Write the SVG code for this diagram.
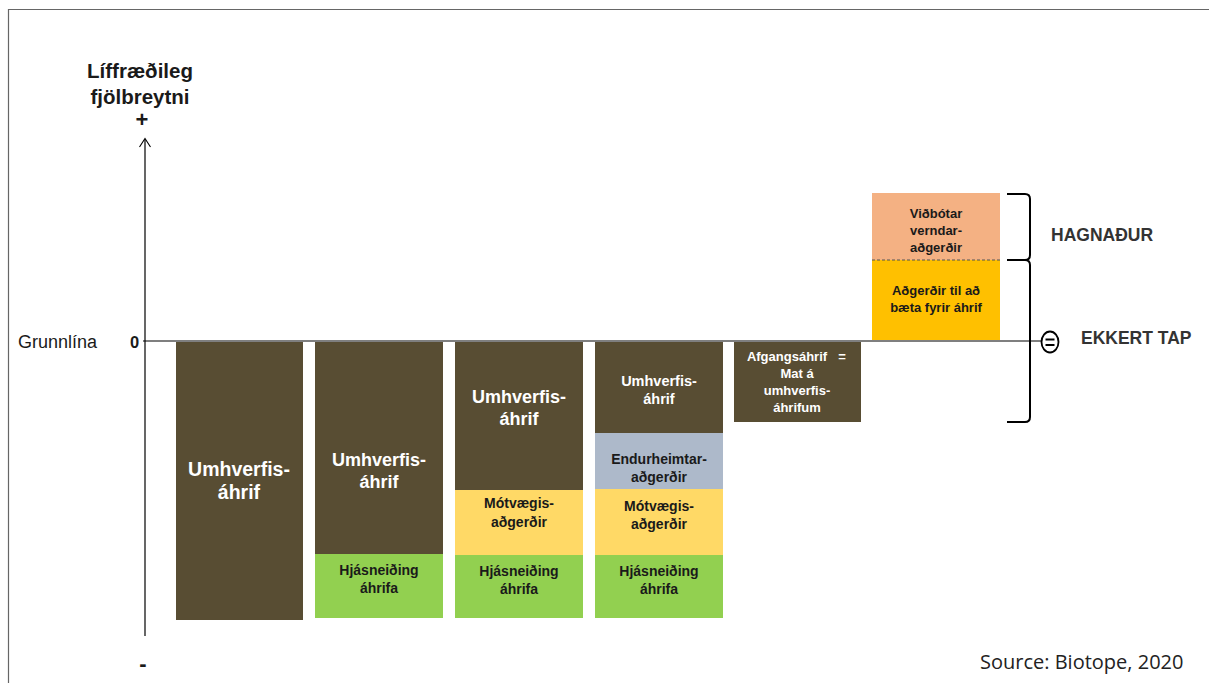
<svg xmlns="http://www.w3.org/2000/svg" width="1209" height="683" viewBox="0 0 1209 683">
<defs>
<style>
.t{font-family:"Liberation Sans",Arial,sans-serif;font-weight:bold;text-anchor:middle}
.w{fill:#ffffff}
.k{fill:#1a1a1a}
.ol{fill:#584D33}
.gr{fill:#92D050}
.ye{fill:#FFD966}
.bl{fill:#ADB9CA}
.ln{stroke:#000;stroke-width:1.2;fill:none}
</style>
</defs>
<rect width="1209" height="683" fill="#fff"/>
<path d="M8.5,683 V9.5 H1209" fill="none" stroke="#666" stroke-width="1.2"/>

<g id="axis">
<text class="t k" x="140" y="78" font-size="20.5">Líffræðileg</text>
<text class="t k" x="140" y="104" font-size="20.5">fjölbreytni</text>
<text class="t k" x="142" y="127" font-size="22">+</text>
<text class="t k" x="143" y="671" font-size="22">-</text>
<text x="18" y="348" font-family="Liberation Sans,Arial,sans-serif" font-size="18" fill="#1a1a1a">Grunnlína</text>
<text x="130" y="348" font-family="Liberation Sans,Arial,sans-serif" font-weight="bold" font-size="16.5" fill="#1a1a1a">0</text>
</g>

<g id="connectors">
<line class="ln" x1="145" y1="636" x2="145" y2="139"/>
<path d="M139.5,147 L145,138.5 L150.5,147" fill="none" stroke="#000" stroke-width="1.1"/>
<line class="ln" x1="143" y1="341" x2="1041" y2="341"/>
</g>

<g id="bar1">
<rect class="ol" x="176" y="342" width="127" height="278"/>
<text class="t w" x="239" y="476" font-size="19.5">Umhverfis-</text>
<text class="t w" x="239" y="499" font-size="19.5">áhrif</text>
</g>

<g id="bar2">
<rect class="ol" x="315" y="342" width="128" height="212"/>
<rect class="gr" x="315" y="554" width="128" height="64"/>
<text class="t w" x="379" y="466" font-size="18">Umhverfis-</text>
<text class="t w" x="379" y="488" font-size="18">áhrif</text>
<text class="t k" x="379" y="575" font-size="14">Hjásneiðing</text>
<text class="t k" x="379" y="593" font-size="14">áhrifa</text>
</g>

<g id="bar3">
<rect class="ol" x="455" y="342" width="128" height="148"/>
<rect class="ye" x="455" y="490" width="128" height="65"/>
<rect class="gr" x="455" y="555" width="128" height="63"/>
<text class="t w" x="519" y="403" font-size="18">Umhverfis-</text>
<text class="t w" x="519" y="425" font-size="18">áhrif</text>
<text class="t k" x="519" y="508" font-size="14">Mótvægis-</text>
<text class="t k" x="519" y="527" font-size="14">aðgerðir</text>
<text class="t k" x="519" y="576" font-size="14">Hjásneiðing</text>
<text class="t k" x="519" y="594" font-size="14">áhrifa</text>
</g>

<g id="bar4">
<rect class="ol" x="595" y="342" width="128" height="91"/>
<rect class="bl" x="595" y="433" width="128" height="56"/>
<rect class="ye" x="595" y="489" width="128" height="66"/>
<rect class="gr" x="595" y="555" width="128" height="63"/>
<text class="t w" x="659" y="386" font-size="14.5">Umhverfis-</text>
<text class="t w" x="659" y="404" font-size="14.5">áhrif</text>
<text class="t k" x="659" y="464" font-size="14">Endurheimtar-</text>
<text class="t k" x="659" y="482" font-size="14">aðgerðir</text>
<text class="t k" x="659" y="511" font-size="14">Mótvægis-</text>
<text class="t k" x="659" y="529" font-size="14">aðgerðir</text>
<text class="t k" x="659" y="576" font-size="14">Hjásneiðing</text>
<text class="t k" x="659" y="594" font-size="14">áhrifa</text>
</g>

<g id="bar5">
<rect class="ol" x="734" y="342" width="127" height="80"/>
<text class="t w" x="787" y="361" font-size="13">Afgangsáhrif</text>
<text class="t w" x="842" y="361" font-size="13">=</text>
<text class="t w" x="797" y="378" font-size="13">Mat á</text>
<text class="t w" x="797" y="395" font-size="13">umhverfis-</text>
<text class="t w" x="797" y="412" font-size="13">áhrifum</text>
</g>

<g id="bar6">
<rect x="872" y="193" width="128" height="67" fill="#F4B183"/>
<rect x="872" y="260" width="128" height="80" fill="#FFC000"/>
<line x1="872" y1="260" x2="1000" y2="260" stroke="#555" stroke-width="1" stroke-dasharray="3,2"/>
<text class="t k" x="936" y="218" font-size="13">Viðbótar</text>
<text class="t k" x="936" y="235" font-size="13">verndar-</text>
<text class="t k" x="936" y="252" font-size="13">aðgerðir</text>
<text class="t k" x="936" y="295" font-size="13">Aðgerðir til að</text>
<text class="t k" x="936" y="312" font-size="13">bæta fyrir áhrif</text>
</g>

<g id="brackets">
<path d="M1007,194 H1025 Q1030,194 1030,199 V255 Q1030,260 1025,260 H1007 M1025,260 Q1030,260 1030,265 V417 Q1030,422 1025,422 H1007" fill="none" stroke="#000" stroke-width="2"/>
<text x="1051" y="241" font-family="Liberation Sans,Arial,sans-serif" font-weight="bold" font-size="17.5" fill="#333">HAGNAÐUR</text>
</g>

<g id="equal">
<ellipse cx="1050" cy="342" rx="8.5" ry="10.5" fill="#fff" stroke="#000" stroke-width="1.8"/>
<line x1="1045.5" y1="339.5" x2="1054.5" y2="339.5" stroke="#000" stroke-width="2"/>
<line x1="1045.5" y1="345" x2="1054.5" y2="345" stroke="#000" stroke-width="2"/>
<text x="1081" y="344" font-family="Liberation Sans,Arial,sans-serif" font-weight="bold" font-size="17.5" fill="#333">EKKERT TAP</text>
</g>

<text x="980" y="669" font-family="Open Sans,Liberation Sans,sans-serif" font-size="20" fill="#222">Source: Biotope, 2020</text>
</svg>
